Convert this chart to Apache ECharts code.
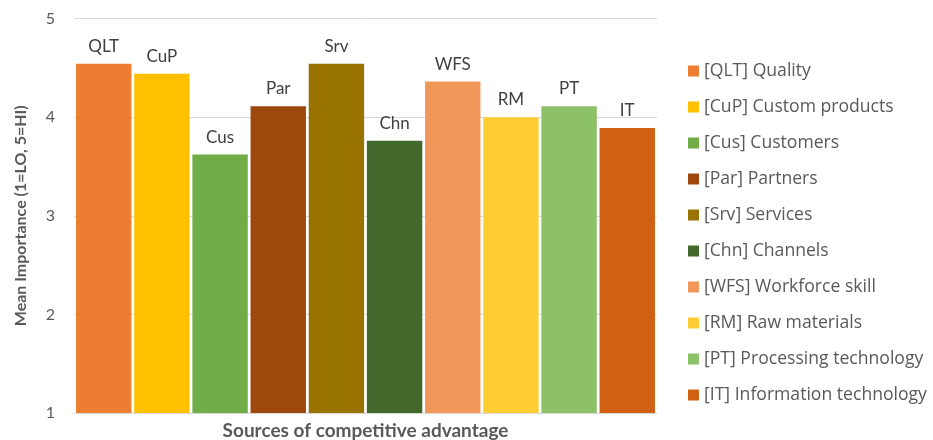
<!DOCTYPE html>
<html><head><meta charset="utf-8">
<script src="https://cdn.jsdelivr.net/npm/echarts@6/dist/echarts.min.js"></script>
<style>html,body{margin:0;padding:0;background:#fff}#c{width:933px;height:440px}</style>
</head><body><div id="c"></div>
<script>
const codes = ['QLT','CuP','Cus','Par','Srv','Chn','WFS','RM','PT','IT'];
const names = ['[QLT] Quality','[CuP] Custom products','[Cus] Customers','[Par] Partners','[Srv] Services','[Chn] Channels','[WFS] Workforce skill','[RM] Raw materials','[PT] Processing technology','[IT] Information technology'];
const values = [4.54, 4.44, 3.62, 4.11, 4.54, 3.76, 4.36, 4.00, 4.11, 3.89];
const colors = ['#ED7D31','#FFC000','#70AD47','#9E480E','#997300','#43682B','#F1975A','#FFCD33','#8CC168','#D26012'];
const yTicks = [1,2,3,4,5];
const FONT = 'Lato, "Open Sans", sans-serif';
const series = codes.map((c,i)=>({
  name: names[i], type:'bar', data:[values[i]],
  itemStyle:{color:colors[i]},
  barGap:'5%', barCategoryGap:'0.7%',
  label:{show:true, position:'top', distance:9, formatter:c, fontSize:17, color:'#404040', fontFamily:FONT}
}));
const chart = echarts.init(document.getElementById('c'));
chart.setOption({
  animation:false,
  color: colors,
  grid:{left:74, right:276, top:18.5, bottom:27, outerBoundsMode:'none', containLabel:false},
  legend:{orient:'vertical', left:683, top:57, itemWidth:11, itemHeight:11, itemGap:18,
    icon:'rect', textStyle:{fontSize:17.6, color:'#595959', fontFamily:'"Open Sans", Lato, sans-serif', lineHeight:17},
    data:names},
  xAxis:{type:'category', data:[''], axisLabel:{show:false}, axisTick:{show:false},
    axisLine:{lineStyle:{color:'#d9d9d9', width:1}},
    name:'Sources of competitive advantage', nameLocation:'middle', nameGap:8,
    nameTextStyle:{fontSize:19, fontWeight:'bold', color:'#595959', fontFamily:FONT}},
  yAxis:{type:'value', min:yTicks[0], max:yTicks[yTicks.length-1], interval:1,
    axisLabel:{fontSize:16, color:'#595959', margin:19, fontFamily:FONT},
    splitLine:{lineStyle:{color:'#d9d9d9', width:1}},
    axisLine:{show:false}, axisTick:{show:false},
    name:'Mean Importance (1=LO, 5=HI)', nameLocation:'middle', nameGap:45,
    nameTextStyle:{fontSize:16, fontWeight:'bold', color:'#595959', fontFamily:FONT}},
  series: series
});
</script></body></html>
